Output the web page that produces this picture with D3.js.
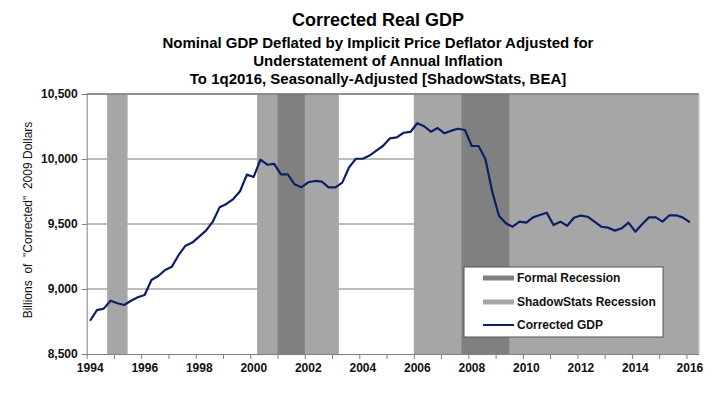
<!DOCTYPE html>
<html lang="en">
<head>
    <meta charset="UTF-8">
    <title>Corrected Real GDP</title>
    <script src="https://cdn.jsdelivr.net/npm/d3@7/dist/d3.min.js"></script>
    <style>
        body {
            margin: 0;
            padding: 0;
            background: #fff;
        }
        text {
            font-family: "Liberation Sans", Arial, sans-serif;
        }
    </style>
</head>
<body>
<svg width="724" height="395" id="mainsvg"></svg>
<script>
    // quarterly corrected GDP, 1994Q1 .. 2016Q1 (billions of "corrected" 2009 dollars)
    const firstYear = 1994;
    const gdp = [
        8756, 8838, 8849, 8910, 8890, 8877, 8910, 8936,
        8954, 9069, 9100, 9146, 9172, 9262, 9333, 9357,
        9403, 9449, 9518, 9628, 9654, 9692, 9752, 9880,
        9862, 9995, 9956, 9962, 9882, 9882, 9805, 9782,
        9821, 9831, 9826, 9782, 9782, 9818, 9936, 10002,
        10002, 10026, 10064, 10102, 10159, 10167, 10202, 10208,
        10275, 10252, 10210, 10238, 10198, 10218, 10233, 10223,
        10100, 10100, 10000, 9749, 9562, 9505, 9479, 9518,
        9510, 9551, 9569, 9587, 9492, 9518, 9486, 9548,
        9565, 9556, 9518, 9479, 9472, 9449, 9467, 9510,
        9441, 9498, 9551, 9551, 9518, 9567, 9567, 9549,
        9513
    ];
    // recession periods as [start, end] in decimal years
    const shadowRecessions = [[1994.75, 1995.5], [2000.25, 2003.25], [2006.0, 2016.45]];
    const formalRecessions = [[2001.0, 2002.0], [2007.75, 2009.5]];
    const yTicks = [8500, 9000, 9500, 10000, 10500];
    const xLabelYears = [1994, 1996, 1998, 2000, 2002, 2004, 2006, 2008, 2010, 2012, 2014, 2016];
    const legendItems = ["Formal Recession", "ShadowStats Recession", "Corrected GDP"];

    const svg = d3.select("#mainsvg");
    const plotL = 86.7, plotR = 698.7, plotT = 94, plotB = 354;

    const x = d3.scaleLinear().domain([1994, 2016.45]).range([plotL, plotR]);
    const y = d3.scaleLinear().domain([8500, 10500]).range([plotB, plotT]);

    // titles
    const titles = [
        {t: "Corrected Real GDP", size: 18, y: 26},
        {t: "Nominal GDP Deflated by Implicit Price Deflator Adjusted for", size: 15, y: 48},
        {t: "Understatement of Annual Inflation", size: 15, y: 66},
        {t: "To 1q2016, Seasonally-Adjusted [ShadowStats, BEA]", size: 15, y: 84}
    ];
    titles.forEach(d => {
        svg.append("text")
            .attr("x", 378)
            .attr("y", d.y)
            .attr("text-anchor", "middle")
            .attr("font-size", d.size + "px")
            .attr("font-weight", "bold")
            .text(d.t);
    });

    // gridlines (hidden under the shading)
    svg.append("g")
        .selectAll("line")
        .data(yTicks.slice(1))
        .join("line")
        .attr("x1", plotL).attr("x2", plotR)
        .attr("y1", d => y(d)).attr("y2", d => y(d))
        .attr("stroke", "#7a7a7a")
        .attr("stroke-width", 1);

    // recession shading
    svg.append("g")
        .selectAll("rect")
        .data(shadowRecessions)
        .join("rect")
        .attr("x", d => x(d[0]))
        .attr("width", d => x(d[1]) - x(d[0]))
        .attr("y", plotT)
        .attr("height", plotB - plotT)
        .attr("fill", "#a6a6a6");
    svg.append("g")
        .selectAll("rect")
        .data(formalRecessions)
        .join("rect")
        .attr("x", d => x(d[0]))
        .attr("width", d => x(d[1]) - x(d[0]))
        .attr("y", plotT)
        .attr("height", plotB - plotT)
        .attr("fill", "#808080");

    // top border and right edge
    svg.append("line")
        .attr("x1", plotL).attr("x2", plotR)
        .attr("y1", plotT).attr("y2", plotT)
        .attr("stroke", "#666").attr("stroke-width", 1);
    svg.append("line")
        .attr("x1", plotR + 0.5).attr("x2", plotR + 0.5)
        .attr("y1", plotT).attr("y2", plotB)
        .attr("stroke", "#c8c8c8").attr("stroke-width", 1);

    // y axis
    const yAxis = svg.append("g")
        .attr("transform", "translate(" + plotL + ",0)")
        .call(d3.axisLeft(y).tickValues(yTicks).tickSize(5).tickPadding(4)
            .tickFormat(d3.format(",")));
    yAxis.select(".domain").attr("stroke", "#808080");
    yAxis.selectAll(".tick line").attr("stroke", "#808080");
    yAxis.selectAll("text")
        .attr("font-size", "12px")
        .attr("font-weight", "bold")
        .attr("fill", "#111")
        .style("font-family", "'Liberation Sans', Arial, sans-serif");

    // x axis
    const xAxis = svg.append("g")
        .attr("transform", "translate(0," + plotB + ")")
        .call(d3.axisBottom(x).tickValues(d3.range(1994, 2017)).tickSize(5).tickSizeOuter(0)
            .tickFormat(d => xLabelYears.includes(d) ? d : ""));
    xAxis.select(".domain").attr("stroke", "#808080");
    xAxis.selectAll(".tick line").attr("stroke", "#808080");
    xAxis.selectAll("text")
        .attr("font-size", "12px")
        .attr("font-weight", "bold")
        .attr("fill", "#111")
        .attr("dx", 3)
        .attr("y", 9)
        .style("font-family", "'Liberation Sans', Arial, sans-serif");

    // y axis title
    svg.append("text")
        .attr("transform", "translate(32,220) rotate(-90)")
        .attr("text-anchor", "middle")
        .attr("font-size", "12px")
        .attr("fill", "#111")
        .attr("xml:space", "preserve")
        .text("Billions  of  \"Corrected\"  2009 Dollars");

    // GDP line, plotted mid-quarter
    const line = d3.line()
        .x((d, i) => x(firstYear + i / 4 + 0.125))
        .y(d => y(d));
    svg.append("path")
        .datum(gdp)
        .attr("d", line)
        .attr("fill", "none")
        .attr("stroke", "#0c1f66")
        .attr("stroke-width", 2.2)
        .attr("stroke-linejoin", "round");

    // legend
    const lg = svg.append("g").attr("transform", "translate(464,267)");
    lg.append("rect")
        .attr("width", 199).attr("height", 70)
        .attr("fill", "#fff")
        .attr("stroke", "#555").attr("stroke-width", 1);
    const rowY = [11, 35, 58];
    const swatchColors = ["#808080", "#a6a6a6", "#0c1f66"];
    const swatchWidths = [5, 5, 2];
    legendItems.forEach((name, i) => {
        lg.append("line")
            .attr("x1", 19).attr("x2", 50)
            .attr("y1", rowY[i]).attr("y2", rowY[i])
            .attr("stroke", swatchColors[i])
            .attr("stroke-width", swatchWidths[i]);
        lg.append("text")
            .attr("x", 53)
            .attr("y", rowY[i])
            .attr("dy", "0.35em")
            .attr("font-size", "12px")
            .attr("font-weight", "bold")
            .attr("fill", "#111")
            .text(name);
    });
</script>
</body>
</html>
